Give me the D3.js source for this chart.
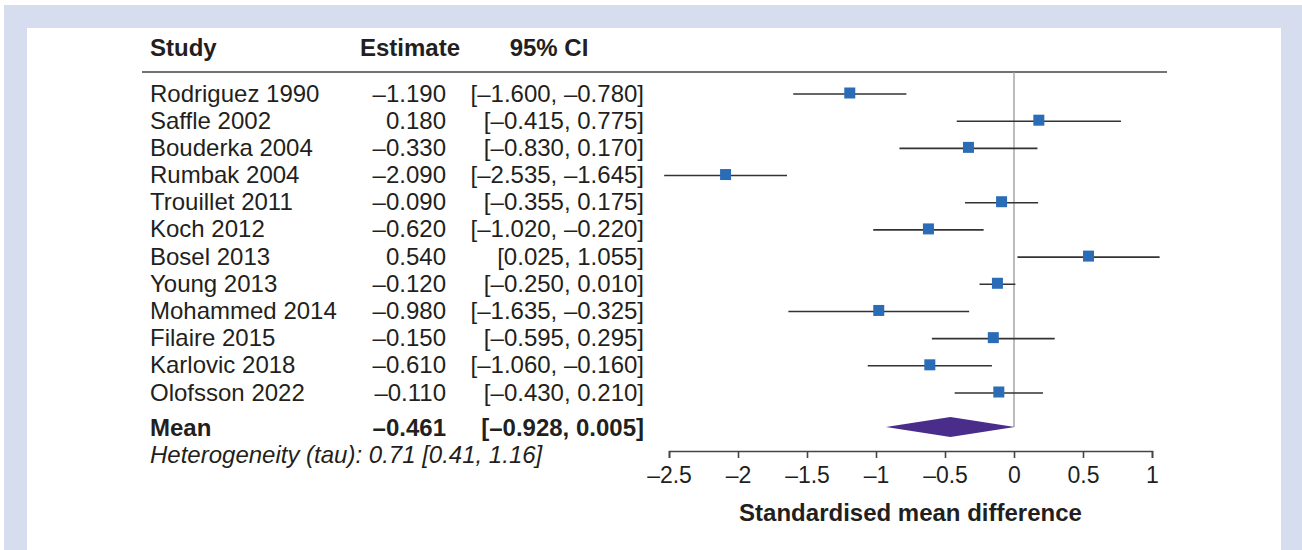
<!DOCTYPE html>
<html>
<head>
<meta charset="utf-8">
<script src="https://cdn.jsdelivr.net/npm/d3@7"></script>
<style>
  body { margin: 0; background: #fff; }
  text { font-family: "Liberation Sans", Arial, Helvetica, sans-serif; fill: #231f20; }
</style>
</head>
<body>
<div id="chart"></div>
<script>
const width = 1302;
const height = 550;

// study data
const studies = ["Rodriguez 1990", "Saffle 2002", "Bouderka 2004", "Rumbak 2004", "Trouillet 2011",
  "Koch 2012", "Bosel 2013", "Young 2013", "Mohammed 2014", "Filaire 2015", "Karlovic 2018", "Olofsson 2022"];
const estimates = [-1.190, 0.180, -0.330, -2.090, -0.090, -0.620, 0.540, -0.120, -0.980, -0.150, -0.610, -0.110];
const lower = [-1.600, -0.415, -0.830, -2.535, -0.355, -1.020, 0.025, -0.250, -1.635, -0.595, -1.060, -0.430];
const upper = [-0.780, 0.775, 0.170, -1.645, 0.175, -0.220, 1.055, 0.010, -0.325, 0.295, -0.160, 0.210];

// pooled estimate
const meanEst = -0.461;
const meanCI = [-0.928, 0.005];
const tauText = "Heterogeneity (tau): 0.71 [0.41, 1.16]";

const xTicks = [-2.5, -2, -1.5, -1, -0.5, 0, 0.5, 1];

const fmt = v => d3.format(".3f")(v).replace("-", "\u2013").replace("−", "\u2013");
const tickFmt = v => String(v).replace("-", "\u2013");

const svg = d3.select("#chart").append("svg")
  .attr("width", width)
  .attr("height", height);

// frame
svg.append("rect").attr("x", 4).attr("y", 5).attr("width", width - 4).attr("height", height - 5).attr("fill", "#d5ddef");
svg.append("rect").attr("x", 27).attr("y", 28).attr("width", 1254).attr("height", height - 28).attr("fill", "#fff");

const x = d3.scaleLinear().domain([-2.5, 1]).range([669, 1152]);
const y = d3.scaleLinear().domain([0, studies.length - 1]).range([93, 392]);
const yMean = 427;
const yAxis = 451;
const fs = 24;

// header
const header = svg.append("g").attr("font-weight", "bold").attr("font-size", fs);
header.append("text").attr("x", 150).attr("y", 56).text("Study");
header.append("text").attr("x", 410).attr("y", 56).attr("text-anchor", "middle").text("Estimate");
header.append("text").attr("x", 549).attr("y", 56).attr("text-anchor", "middle").text("95% CI");

svg.append("line")
  .attr("x1", 142).attr("x2", 1167).attr("y1", 72).attr("y2", 72)
  .attr("stroke", "#444").attr("stroke-width", 1.6);

// zero line
svg.append("line")
  .attr("x1", x(0)).attr("x2", x(0)).attr("y1", 72).attr("y2", yMean)
  .attr("stroke", "#999").attr("stroke-width", 1.3);

// rows of text
const rows = svg.append("g").attr("font-size", fs);
studies.forEach((s, i) => {
  const g = rows.append("g").attr("transform", `translate(0,${y(i) + 8.5})`);
  g.append("text").attr("x", 150).text(s);
  g.append("text").attr("x", 446).attr("text-anchor", "end").text(fmt(estimates[i]));
  g.append("text").attr("x", 644).attr("text-anchor", "end")
    .text(`[${fmt(lower[i])}, ${fmt(upper[i])}]`);
});

// confidence intervals
svg.append("g").selectAll("line")
  .data(studies)
  .enter().append("line")
  .attr("x1", (d, i) => x(lower[i]))
  .attr("x2", (d, i) => x(upper[i]))
  .attr("y1", (d, i) => y(i) + 1)
  .attr("y2", (d, i) => y(i) + 1)
  .attr("stroke", "#333")
  .attr("stroke-width", 1.6);

// point estimates
const sq = 11;
svg.append("g").selectAll("rect")
  .data(studies)
  .enter().append("rect")
  .attr("x", (d, i) => x(estimates[i]) - sq / 2)
  .attr("y", (d, i) => y(i) - sq / 2)
  .attr("width", sq)
  .attr("height", sq)
  .attr("fill", "#2b6cb6");

// mean row
const mg = svg.append("g").attr("font-size", fs).attr("font-weight", "bold")
  .attr("transform", `translate(0,${yMean + 8.5})`);
mg.append("text").attr("x", 150).text("Mean");
mg.append("text").attr("x", 446).attr("text-anchor", "end").text(fmt(meanEst));
mg.append("text").attr("x", 644).attr("text-anchor", "end").text(`[${fmt(meanCI[0])}, ${fmt(meanCI[1])}]`);

svg.append("path")
  .attr("d", d3.line()([
    [x(meanCI[0]), yMean],
    [x(meanEst), yMean - 10],
    [x(meanCI[1]), yMean],
    [x(meanEst), yMean + 10]
  ]) + "Z")
  .attr("fill", "#4a2c8b");

svg.append("text")
  .attr("x", 150).attr("y", yMean + 36)
  .attr("font-size", fs).attr("font-style", "italic")
  .text(tauText);

// x axis
const axis = svg.append("g")
  .attr("transform", `translate(0,${yAxis})`)
  .call(d3.axisBottom(x).tickValues(xTicks).tickFormat(tickFmt).tickSize(7).tickPadding(9));
axis.select(".domain").attr("stroke", "#444").attr("stroke-width", 1.6);
axis.selectAll(".tick line").attr("stroke", "#444").attr("stroke-width", 1.6);
axis.selectAll(".tick text")
  .attr("font-size", 23)
  .attr("font-family", "'Liberation Sans', Arial, sans-serif")
  .attr("fill", "#231f20");

svg.append("text")
  .attr("x", (x.range()[0] + x.range()[1]) / 2).attr("y", 521)
  .attr("text-anchor", "middle")
  .attr("font-size", fs).attr("font-weight", "bold")
  .text("Standardised mean difference");
</script>
</body>
</html>
